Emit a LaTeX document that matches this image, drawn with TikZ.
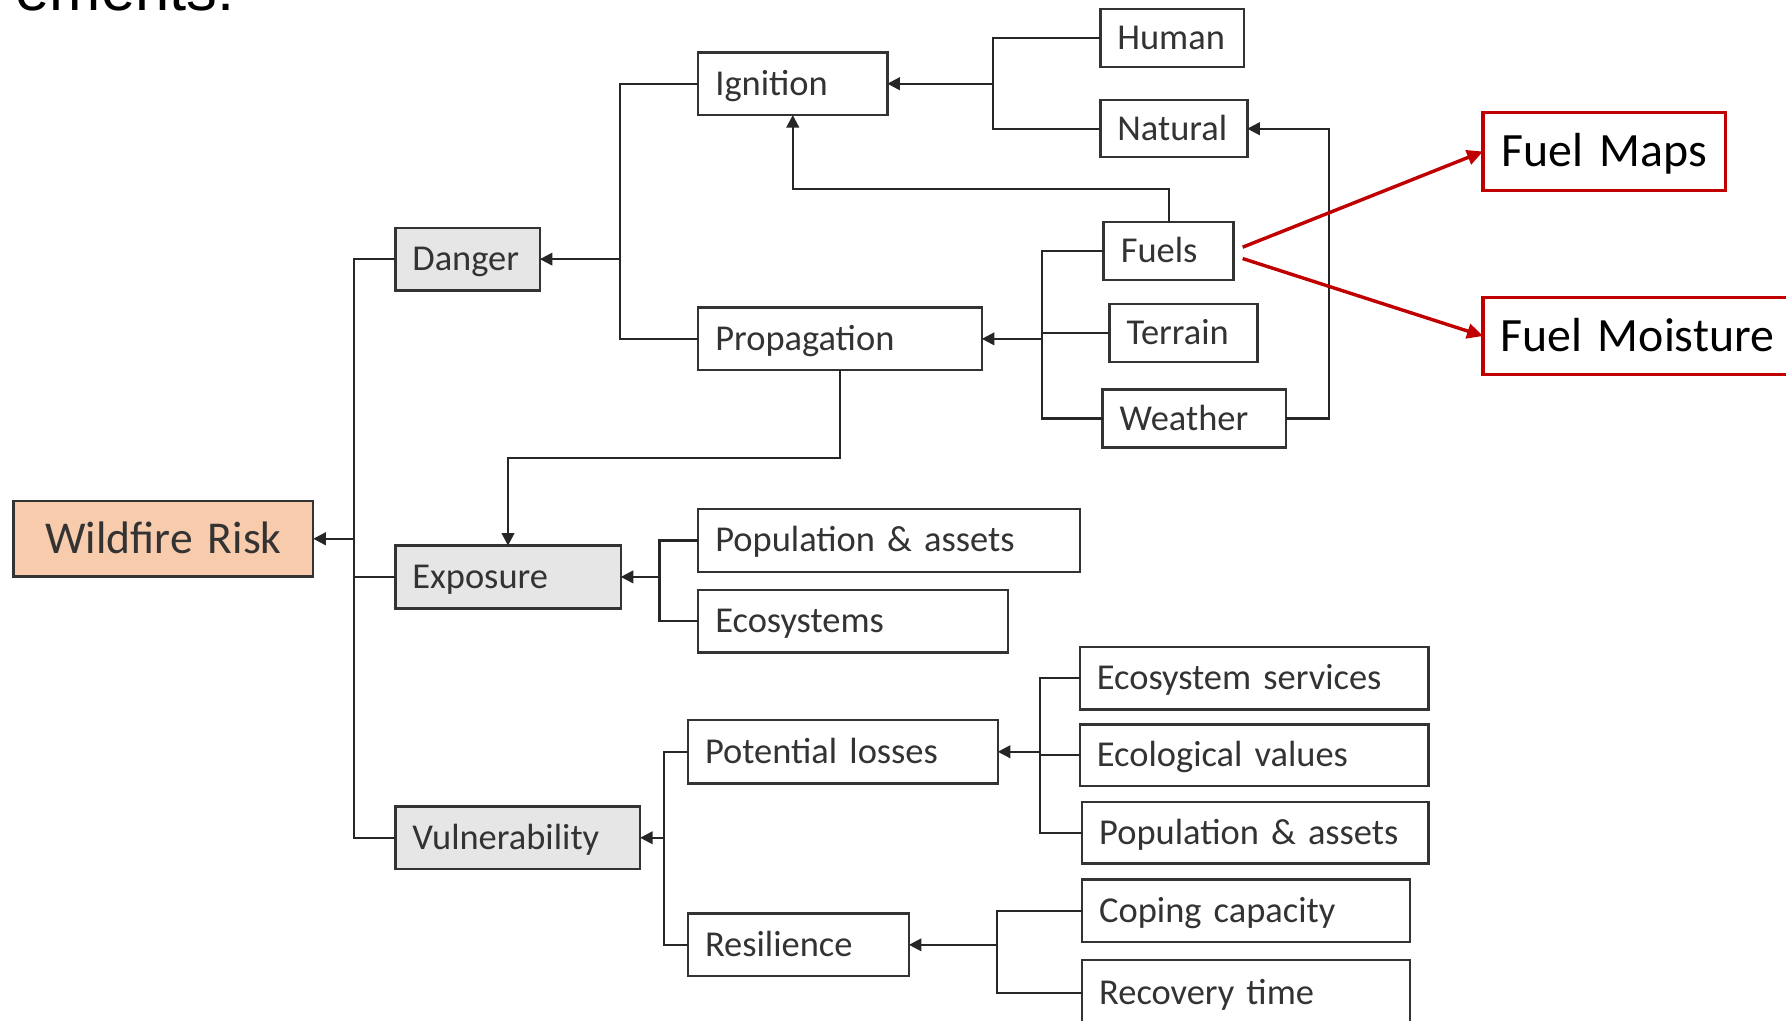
\documentclass[tikz,border=0pt]{standalone}
\usepackage{fontspec}
\setmainfont{Carlito}
\newfontfamily\titlef{Liberation Sans}
\usetikzlibrary{arrows.meta,calc}
\definecolor{bordc}{HTML}{333333}
\definecolor{txtc}{HTML}{333333}
\definecolor{linec}{HTML}{262626}
\definecolor{graybox}{HTML}{E6E6E6}
\definecolor{peach}{HTML}{F8CBAD}
\definecolor{redc}{HTML}{C00000}
\tikzset{
  box/.style={draw=bordc, line width=2.2pt, fill=white, text=txtc,
    font=\fontsize{32}{38}\selectfont, inner xsep=15pt, inner ysep=0pt,
    outer sep=0pt, align=left, text height=20.2pt, text depth=0pt},
  graybx/.style={box, fill=graybox},
  riskbx/.style={box, fill=peach, font=\fontsize{40}{48}\selectfont,
    align=center, text height=25.3pt},
  redbx/.style={box, draw=redc, line width=3pt, text=black,
    font=\fontsize{42}{50}\selectfont, text height=26.5pt},
  ln/.style={draw=linec, line width=2pt},
  arr/.style={ln, -{Triangle[length=11pt,width=11pt]}},
  redarr/.style={draw=redc, line width=3pt, -{Triangle[length=14pt,width=13pt]}},
}
\newcommand\bx[7]{%
  \pgfmathsetmacro\bxw{#5-#3-30}%
  \pgfmathsetmacro\bxh{#6-#4}%
  \node[#1, text width=\bxw pt, minimum height=\bxh pt, anchor=north west] (#2) at (#3,#4) {#7};}
\begin{document}
\begin{tikzpicture}[x=1pt,y=-1pt]
\clip (0,0) rectangle (1568,896);
\fill[white] (0,0) rectangle (1568,896);

% partial title at the top edge
\node[anchor=base east, font=\titlef\fontsize{54}{60}\selectfont, text=black, inner sep=0pt] (title) at (206,9.5) {ements:};

% boxes
\bx{riskbx}{risk}{12}{440}{275}{506}{Wildfire Risk}
\bx{graybx}{danger}{347}{200}{474}{255}{Danger}
\bx{graybx}{exposure}{347}{479}{545}{534}{Exposure}
\bx{graybx}{vuln}{347}{708}{562}{763}{Vulnerability}

\bx{box}{ignition}{613}{46}{779}{101}{Ignition}
\bx{box}{propagation}{613}{270}{862}{325}{Propagation}
\bx{box}{human}{966}{8}{1092}{59}{Human}
\bx{box}{natural}{966}{88}{1095}{138}{Natural}
\bx{box}{fuels}{969}{195}{1083}{246}{Fuels}
\bx{box}{terrain}{974}{267}{1104}{318}{Terrain}
\bx{box}{weather}{968}{342}{1129}{393}{Weather}

\bx{box}{popa}{613}{447}{948}{502}{Population \& assets}
\bx{box}{eco}{613}{518}{885}{573}{Ecosystems}

\bx{box}{potential}{604}{632}{876}{688}{Potential losses}
\bx{box}{resilience}{604}{802}{798}{857}{Resilience}
\bx{box}{ecoserv}{948}{568}{1254}{623}{Ecosystem services}
\bx{box}{ecoval}{948}{636}{1254}{690}{Ecological values}
\bx{box}{popb}{950}{704}{1254}{758}{Population \& assets}
\bx{box}{coping}{950}{772}{1238}{827}{Coping capacity}
\bx{box}{recovery}{950}{843}{1238}{900}{Recovery time}

\node[redbx, align=center, text width=183pt, minimum height=68pt, anchor=north west] (fuelmaps) at (1302,99) {Fuel Maps};
\node[redbx, text width=268pt, minimum height=68pt, anchor=north west] (fuelmoist) at (1302,261) {Fuel Moisture};

% junction points
\coordinate (jW) at (311,473);
\coordinate (jD) at (544,227.5);
\coordinate (jI) at (872,73.5);
\coordinate (jP) at (915,297.5);
\coordinate (jE) at (579,506.5);
\coordinate (jV) at (583,735.5);
\coordinate (jL) at (913,660);
\coordinate (jR) at (875,829.5);

% main trunk
\draw[ln] (danger.west) -- ++(-36,0) |- (vuln.west);
\draw[ln] (exposure.west) -- ++(-36,0);
\draw[arr] (jW) -- (risk.east);

% danger
\draw[ln] (ignition.west) -- ++(-69,0) |- (propagation.west);
\draw[arr] (jD) -- (danger.east);

% ignition
\draw[ln] (human.west) -- ++(-94,0) |- (natural.west);
\draw[arr] (jI) -- (ignition.east);
\draw[arr] (fuels.north) -- ++(0,-29) -| (ignition.south);
\draw[arr] (weather.east) -- ++(38,0) |- (natural.east);

% propagation
\draw[ln] (fuels.west) -- ++(-54,0) |- (weather.west);
\draw[ln] (terrain.west) -- ++(-59,0);
\draw[arr] (jP) -- (propagation.east);
\draw[arr] (propagation.south) -- ++(0,77) -| (exposure.north);

% exposure
\draw[ln] (popa.west) -- ++(-34,0) |- (eco.west);
\draw[arr] (jE) -- (exposure.east);

% vulnerability
\draw[ln] (potential.west) -- ++(-21,0) |- (resilience.west);
\draw[arr] (jV) -- (vuln.east);
\draw[ln] (ecoserv.west) -- ++(-35,0) |- (popb.west);
\draw[ln] (ecoval.west) -- ++(-35,0);
\draw[arr] (jL) -- (potential.east);
\draw[ln] (coping.west) -- ++(-75,0) |- (recovery.west);
\draw[arr] (jR) -- (resilience.east);

% red arrows
\draw[redarr] ($(fuels.east)+(8,-3.5)$) -- (fuelmaps.west);
\draw[redarr] ($(fuels.east)+(8,6.5)$) -- (fuelmoist.west);
\end{tikzpicture}
\end{document}
